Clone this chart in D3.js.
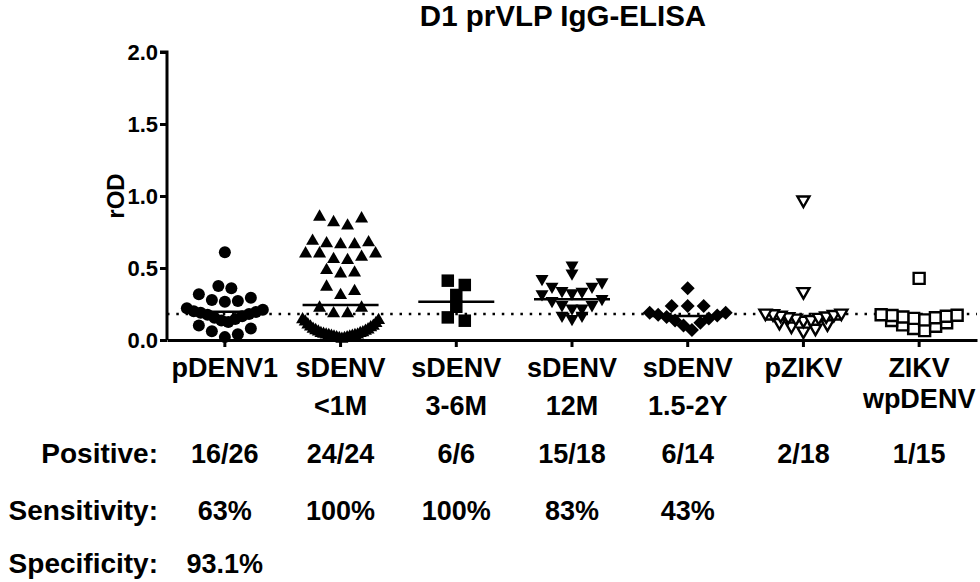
<!DOCTYPE html>
<html>
<head>
<meta charset="utf-8">
<script src="https://cdn.jsdelivr.net/npm/d3@7"></script>
<style>
  body { margin: 0; background: #fff; }
  svg text { font-family: "Liberation Sans", Arial, sans-serif; font-weight: bold; fill: #000; }
</style>
</head>
<body>
<svg id="chart" width="980" height="582"></svg>
<script>
// categories (x axis), each label split in lines
var categories = ["pDENV1", "sDENV <1M", "sDENV 3-6M", "sDENV 12M", "sDENV 1.5-2Y", "pZIKV", "ZIKV wpDENV"];
var categoryLines = [["pDENV1"], ["sDENV", "<1M"], ["sDENV", "3-6M"], ["sDENV", "12M"], ["sDENV", "1.5-2Y"], ["pZIKV"], ["ZIKV", "wpDENV"]];

// rOD values
var pDENV1 = [0.61, 0.375, 0.36, 0.317, 0.294, 0.278, 0.271, 0.266,
  0.22, 0.21, 0.2, 0.195, 0.19, 0.18, 0.175, 0.165, 0.155, 0.145, 0.135, 0.125,
  0.1, 0.08, 0.06, 0.04, 0.02];
var sDENV1M = [0.868, 0.856, 0.83, 0.806, 0.70, 0.69, 0.683, 0.676, 0.676,
  0.613, 0.613, 0.613, 0.59, 0.574, 0.567, 0.497, 0.48, 0.474,
  0.382, 0.352, 0.324, 0.236, 0.236, 0.197, 0.197,
  0.155, 0.15, 0.14, 0.13, 0.12, 0.11, 0.105, 0.1, 0.09, 0.085, 0.08, 0.075, 0.07, 0.065,
  0.06, 0.06, 0.055, 0.05, 0.05, 0.045, 0.045, 0.04, 0.04, 0.035, 0.035, 0.03, 0.03, 0.025, 0.025, 0.02];
var sDENV36M = [0.412, 0.382, 0.3125, 0.231, 0.157, 0.134];
var sDENV12M = [0.505, 0.451, 0.412, 0.389, 0.359, 0.359, 0.329, 0.324, 0.3125, 0.306,
  0.273, 0.259, 0.231, 0.231, 0.208, 0.208, 0.157, 0.157, 0.134];
var sDENV15Y = [0.359, 0.236, 0.236, 0.236, 0.19, 0.19, 0.175, 0.17, 0.16, 0.15, 0.135, 0.12, 0.1, 0.07];
var pZIKV = [0.96, 0.324, 0.175, 0.175, 0.17, 0.165, 0.16, 0.155, 0.15, 0.145, 0.14, 0.13, 0.125,
  0.11, 0.1, 0.085, 0.07, 0.05];
var ZIKVwpDENV = [0.428, 0.175, 0.172, 0.17, 0.165, 0.16, 0.155, 0.15, 0.14, 0.135,
  0.12, 0.105, 0.095, 0.08, 0.065];
var seriesValues = [pDENV1, sDENV1M, sDENV36M, sDENV12M, sDENV15Y, pZIKV, ZIKVwpDENV];

// horizontal line drawn in each group
var centerLines = [0.197, 0.243, 0.266, 0.283, 0.167, 0.143, 0.15];
var cutoff = 0.18;

var yTicks = [0, 0.5, 1.0, 1.5, 2.0];

var rowLabels = ["Positive:", "Sensitivity:", "Specificity:"];
var positive = ["16/26", "24/24", "6/6", "15/18", "6/14", "2/18", "1/15"];
var sensitivity = ["63%", "100%", "100%", "83%", "43%"];
var specificity = ["93.1%"];

var svg = d3.select("#chart");

var x = d3.scaleBand().domain(categories).range([167, 977]).padding(0);
var y = d3.scaleLinear().domain([0, 2]).range([340, 52]);

// marker shapes, size = outer width in px
var shapes = {
  circle: { draw: function (c, s) { var r = s / 2; c.moveTo(r, 0); c.arc(0, 0, r, 0, 2 * Math.PI); } },
  triUp: { draw: function (c, s) { var h = s * 0.87; c.moveTo(0, -h / 2); c.lineTo(s / 2, h / 2); c.lineTo(-s / 2, h / 2); c.closePath(); } },
  triDown: { draw: function (c, s) { var h = s * 0.87; c.moveTo(0, h / 2); c.lineTo(s / 2, -h / 2); c.lineTo(-s / 2, -h / 2); c.closePath(); } },
  square: { draw: function (c, s) { c.rect(-s / 2, -s / 2, s, s); } },
  diamond: { draw: function (c, s) { var r = s / 2; c.moveTo(0, -r); c.lineTo(r, 0); c.lineTo(0, r); c.lineTo(-r, 0); c.closePath(); } }
};
var markers = [
  { shape: "circle", size: 12, open: false, sp: 13, rowH: 0.1 },
  { shape: "triUp", size: 13, open: false, sp: 14, rowH: 0.15 },
  { shape: "square", size: 12.5, open: false, sp: 17, rowH: 0.1 },
  { shape: "triDown", size: 13, open: false, sp: 10, rowH: 0.1 },
  { shape: "diamond", size: 14, open: false, sp: 16, rowH: 0.13 },
  { shape: "triDown", size: 12, open: true, sp: 12, rowH: 0.07 },
  { shape: "square", size: 11, open: true, sp: 11, rowH: 0.07 }
];

// scatter layout: rows of close values, lowest value in the middle
var ROW_GAP = 0.04, MAX_W = 76;
function swarm(values, spMax, rowH) {
  var sorted = values.slice().sort(d3.ascending);
  var rows = [], row = null;
  sorted.forEach(function (v, i) {
    if (!row || v > row.start + rowH + 1e-9 || v - sorted[i - 1] > ROW_GAP) {
      row = { start: v, vals: [] };
      rows.push(row);
    }
    row.vals.push(v);
  });
  var pts = [];
  rows.forEach(function (r) {
    var n = r.vals.length;
    var sp = n > 1 ? Math.min(spMax, MAX_W / (n - 1)) : 0;
    var slots = d3.range(n).map(function (i) { return (i - (n - 1) / 2) * sp; });
    slots.sort(function (a, b) { return (Math.abs(a) - Math.abs(b)) || (b - a); });
    r.vals.forEach(function (v, i) { pts.push({ v: v, dx: slots[i] }); });
  });
  return pts;
}

// cutoff line
svg.append("line")
  .attr("x1", x.range()[0]).attr("x2", x.range()[1])
  .attr("y1", y(cutoff)).attr("y2", y(cutoff))
  .attr("stroke", "#000").attr("stroke-width", 2.5)
  .attr("stroke-dasharray", "2.5,6.8");

// group center lines
svg.selectAll(".cline")
  .data(categories)
  .enter().append("line")
  .attr("class", "cline")
  .attr("x1", function (d) { return x(d) + x.bandwidth() / 2 - 38; })
  .attr("x2", function (d) { return x(d) + x.bandwidth() / 2 + 38; })
  .attr("y1", function (d, i) { return y(centerLines[i]); })
  .attr("y2", function (d, i) { return y(centerLines[i]); })
  .attr("stroke", "#000").attr("stroke-width", 2.5);

// points
categories.forEach(function (cat, gi) {
  var m = markers[gi];
  var cx = x(cat) + x.bandwidth() / 2;
  var sym = d3.symbol().type(shapes[m.shape]).size(m.size);
  svg.append("g").selectAll("path")
    .data(swarm(seriesValues[gi], m.sp, m.rowH))
    .enter().append("path")
    .attr("transform", function (d) { return "translate(" + (cx + d.dx) + "," + y(d.v) + ")"; })
    .attr("d", sym)
    .attr("fill", m.open ? "#fff" : "#000")
    .attr("stroke", m.open ? "#000" : "none")
    .attr("stroke-width", 2.4);
});

// y axis
var yAxis = svg.append("g")
  .attr("transform", "translate(167,0)")
  .call(d3.axisLeft(y).tickValues(yTicks).tickFormat(d3.format(".1f")).tickSize(7).tickPadding(2));
yAxis.select(".domain").attr("stroke-width", 3).attr("d", "M-7," + y(2) + "H0V" + y(0));
yAxis.selectAll(".tick line").attr("stroke-width", 3);
yAxis.selectAll(".tick text").attr("font-size", 22).attr("font-family", null);

// x axis
var xAxis = svg.append("g")
  .attr("transform", "translate(0,340)")
  .call(d3.axisBottom(x).tickSize(7).tickSizeOuter(0).tickFormat(""));
xAxis.select(".domain").attr("stroke-width", 3);
xAxis.selectAll(".tick line").attr("stroke-width", 3);

// category labels
var lineGap = [38, 38, 38, 38, 38, 38, 31];
categories.forEach(function (cat, i) {
  var t = svg.append("text")
    .attr("x", x(cat) + x.bandwidth() / 2)
    .attr("y", 377)
    .attr("text-anchor", "middle")
    .attr("font-size", 27);
  categoryLines[i].forEach(function (s, k) {
    t.append("tspan").attr("x", x(cat) + x.bandwidth() / 2).attr("dy", k === 0 ? 0 : lineGap[i]).text(s);
  });
});

// title and y label
svg.append("text").attr("x", 563).attr("y", 26).attr("text-anchor", "middle")
  .attr("font-size", 29.5).text("D1 prVLP IgG-ELISA");
svg.append("text").attr("transform", "translate(124,196) rotate(-90)")
  .attr("text-anchor", "middle").attr("font-size", 24).text("rOD");

// table below the plot
var rowY = [463, 520, 573];
var rowValues = [positive, sensitivity, specificity];
rowLabels.forEach(function (lab, r) {
  svg.append("text").attr("x", 158).attr("y", rowY[r]).attr("text-anchor", "end")
    .attr("font-size", 28).text(lab);
  svg.append("g").selectAll("text")
    .data(rowValues[r])
    .enter().append("text")
    .attr("x", function (d, i) { return x(categories[i]) + x.bandwidth() / 2; })
    .attr("y", rowY[r])
    .attr("text-anchor", "middle")
    .attr("font-size", 27)
    .text(function (d) { return d; });
});
</script>
</body>
</html>
